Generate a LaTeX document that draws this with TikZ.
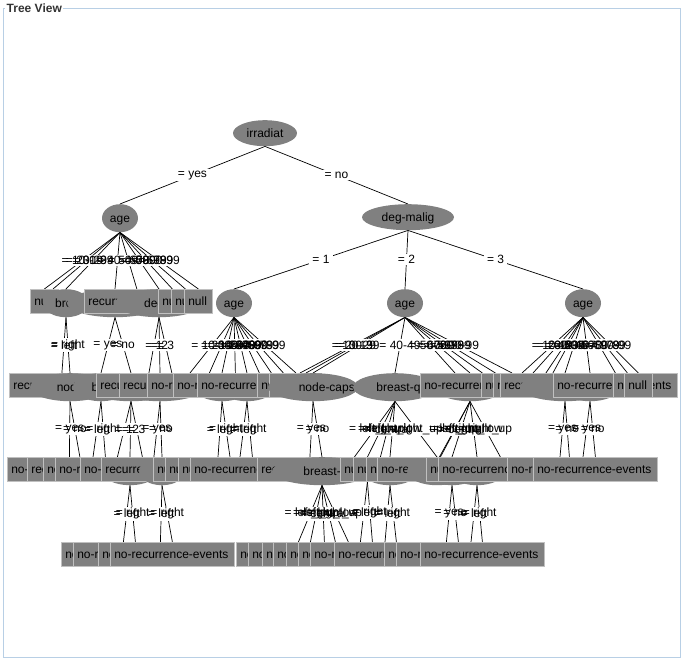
\documentclass[tikz,border=0pt]{standalone}
\usepackage{fontspec}
\setmainfont{Liberation Sans}
\usetikzlibrary{shapes.geometric}
\pgfdeclarelayer{canvas}
\pgfdeclarelayer{links}
\pgfsetlayers{canvas,links,main}
\definecolor{nodegray}{RGB}{128,128,128}
\definecolor{boxedge}{RGB}{192,192,192}
\definecolor{panelblue}{RGB}{184,207,229}
\definecolor{titlegray}{RGB}{51,51,51}
\newcommand\tvfont{\fontsize{12}{14}\selectfont}
\tikzset{
  leafbox/.style={rectangle, fill=nodegray, draw=boxedge, line width=0.8pt, inner sep=0pt, minimum height=24pt},
  splitnode/.style={ellipse, fill=nodegray, inner sep=0pt, minimum height=28pt},
  boxtext/.style={anchor=base west, inner sep=0pt, minimum width=0pt, minimum height=0pt, font=\tvfont},
  midtext/.style={anchor=base, inner sep=0pt, minimum width=0pt, minimum height=0pt, font=\tvfont},
  link/.style={draw=black, line width=0.7pt},
  linkbg/.style={fill=white, inner xsep=3pt, inner ysep=1.5pt, font=\tvfont},
  linktext/.style={inner xsep=3pt, inner ysep=1.5pt, font=\tvfont},
}
% leaf box: name, left, right, top, text
\newcommand\leaf[5]{\node[leafbox, minimum width={#3-#2}, anchor=north west,
  path picture={\node[boxtext] at ([xshift=3.5pt,yshift=-4.5pt]path picture bounding box.west) {#5};}] (#1) at (#2,#4) {};}
% split node: name, centre x, width, top, text, text left x
\newcommand\splitnd[6]{\node[splitnode, minimum width=#3pt, anchor=north,
  path picture={\node[boxtext] at ([xshift={#6-#2},yshift=-4.5pt]path picture bounding box.center) {#5};}] (#1) at (#2,#4) {};}
% split node with centred text: name, centre x, width, top, height, text
\newcommand\splitc[6]{\node[splitnode, minimum width=#3pt, minimum height=#5pt, anchor=north,
  path picture={\node[midtext] at ([yshift=-4.5pt]path picture bounding box.center) {#6};}] (#1) at (#2,#4) {};}

\begin{document}
\begin{tikzpicture}[x=1pt,y=-1pt]
\useasboundingbox (0,0) rectangle (684,661);
\begin{pgfonlayer}{canvas}
  \fill[white] (0,0) rectangle (684,661);
\end{pgfonlayer}
\draw[panelblue, line width=1pt] (3.5,8.5) rectangle (680.5,657.5);
\node[anchor=west, fill=white, inner xsep=1.5pt, inner ysep=1pt, text=titlegray,
  font=\bfseries\fontsize{12}{14}\selectfont] (title) at (5,8.5) {Tree View};

% root and first split
\splitc{irr}{265}{64}{120}{26}{irradiat}
\splitc{age1}{120}{36}{204}{28}{age}
\splitc{dm}{408}{92}{204}{26}{deg-malig}

% level 2
\leaf{A1}{30}{58}{289}{null}
\splitnd{A2}{66}{46}{289}{breast}{48}
\splitnd{A3}{115}{96}{289}{node-caps}{87}
\leaf{A4}{84}{189}{289}{recurrence-events}
\splitnd{A5}{159}{88}{289}{deg-malig}{133}
\leaf{A6}{158}{186}{289}{null}
\leaf{A7}{171}{199}{289}{null}
\leaf{A8}{184}{212}{289}{null}
\splitc{age2}{234}{36}{289}{28}{age}
\splitc{age3}{405}{36}{289}{28}{age}
\splitc{age4}{583}{36}{289}{28}{age}
\coordinate (hA20) at (53,289);

% level 3
\leaf{B1}{9}{114}{373}{recurrence-events}
\splitnd{B2}{70}{80}{373}{node-caps}{45}
\splitnd{Bdm}{131}{92}{373}{deg-malig}{105}
\splitnd{Bh1}{101}{56}{373}{breast}{84.5}
\splitnd{Bnc}{160}{90}{373}{node-caps}{132}
\leaf{B4}{96}{201}{373}{recurrence-events}
\leaf{B5}{119}{224}{373}{recurrence-events}
\splitnd{Bb222}{222}{56}{373}{breast}{205}
\leaf{B6}{147}{271}{373}{no-recurrence-events}
\splitnd{Bb247}{247}{56}{373}{breast}{230}
\leaf{B7}{173}{297}{373}{no-recurrence-events}
\leaf{B8}{197}{321}{373}{no-recurrence-events}
\leaf{B9}{257}{285}{373}{null}
\leaf{B10}{269}{297}{373}{null}
\splitnd{B11}{313}{90}{373}{node-caps}{287}
\splitnd{Bbq}{395}{84}{373}{breast-quad}{363}
\splitnd{Bh470}{470}{70}{373}{breast-quad}{438}
\leaf{B13}{420}{544}{373}{no-recurrence-events}
\leaf{B14}{481}{509}{373}{null}
\leaf{B15}{493}{598}{373}{recurrence-events}
\leaf{B16}{500}{605}{373}{recurrence-events}
\splitnd{B17}{565}{90}{373}{node-caps}{541}
\splitnd{Bh590}{590}{60}{373}{node-caps}{562}
\leaf{B18}{553}{677}{373}{no-recurrence-events}
\leaf{B19}{613}{641}{373}{null}
\leaf{B20}{624}{652}{373}{null}
\coordinate (hB190) at (190,373);
\coordinate (hB296) at (296,373);
\coordinate (hB300) at (300,373);
\coordinate (hB306) at (306,373);
\coordinate (hB455) at (455,373);
\coordinate (hB510) at (512,373);
\coordinate (hB522) at (522,373);
\coordinate (hB533) at (533,373);

% level 4
\leaf{C1}{7}{131}{457}{no-recurrence-events}
\leaf{C2}{27}{132}{457}{recurrence-events}
\leaf{C3}{43}{167}{457}{no-recurrence-events}
\leaf{C4}{55}{179}{457}{no-recurrence-events}
\splitnd{Ch130}{130}{56}{457}{breast}{113.5}
\leaf{C5}{80}{204}{457}{no-recurrence-events}
\leaf{C6}{101}{206}{457}{recurrence-events}
\splitnd{C7}{162}{46}{457}{breast}{145.5}
\leaf{C8}{153}{181}{457}{null}
\leaf{C9}{165}{193}{457}{null}
\leaf{C10}{178}{206}{457}{null}
\leaf{C11}{190}{314}{457}{no-recurrence-events}
\leaf{C12}{257}{362}{457}{recurrence-events}
\splitnd{C13}{322}{100}{457}{breast-quad}{290}
\splitnd{Ch390}{390}{56}{457}{breast}{373.5}
\leaf{C14}{340}{368}{457}{null}
\leaf{C15}{353}{381}{457}{null}
\leaf{C16}{366}{394}{457}{null}
\leaf{C17}{377}{501}{457}{no-recurrence-events}
\splitnd{Ch452}{452}{56}{457}{node-caps}{424}
\splitnd{C18}{437}{60}{457}{irradiat}{419}
\leaf{C19}{426}{454}{457}{null}
\splitnd{Ch477}{477}{56}{457}{breast}{460.5}
\leaf{C20}{438}{562}{457}{no-recurrence-events}
\leaf{C21}{507}{631}{457}{no-recurrence-events}
\leaf{C22}{533}{657}{457}{no-recurrence-events}
\coordinate (hC93) at (93,457);
\coordinate (hC218) at (218,457);
\coordinate (hC230) at (230,457);
\coordinate (hC240) at (240,457);
\coordinate (hC560) at (560,457);
\coordinate (hC583) at (583,457);

% level 5
\leaf{D1}{61}{185}{542}{no-recurrence-events}
\leaf{D2}{73}{197}{542}{no-recurrence-events}
\leaf{D3}{98}{222}{542}{no-recurrence-events}
\leaf{D4}{110}{234}{542}{no-recurrence-events}
\leaf{D5}{236}{360}{542}{no-recurrence-events}
\leaf{D6}{248}{372}{542}{no-recurrence-events}
\leaf{D7}{262}{386}{542}{no-recurrence-events}
\leaf{D8}{273}{397}{542}{no-recurrence-events}
\leaf{D9}{286}{410}{542}{no-recurrence-events}
\leaf{D10}{298}{422}{542}{no-recurrence-events}
\leaf{D11}{310}{434}{542}{no-recurrence-events}
\leaf{D12}{334}{458}{542}{no-recurrence-events}
\leaf{D13}{384}{508}{542}{no-recurrence-events}
\leaf{D14}{396}{520}{542}{no-recurrence-events}
\leaf{D15}{420}{544}{542}{no-recurrence-events}
\coordinate (hD385) at (385,542);
\coordinate (hD471) at (471,542);

\def\linklist{
irr.south/age1.north/{= yes}, irr.south/dm.north/{= no},
dm.south/age2.north/{= 1}, dm.south/age3.north/{= 2}, dm.south/age4.north/{= 3},
age1.south/A1.north/{= 10-19}, age1.south/hA20/{= 20-29}, age1.south/A2.north/{= 30-39},
age1.south/A3.north/{= 40-49}, age1.south/A4.north/{= 50-59}, age1.south/A5.north/{= 60-69},
age1.south/A6.north/{= 70-79}, age1.south/A7.north/{= 80-89}, age1.south/A8.north/{= 90-99},
A2.south/B1.north/{= left}, A2.south/B2.north/{= right},
A3.south/Bh1.north/{= yes}, A3.south/Bdm.north/{= no},
A5.south/B4.north/{= 1}, A5.south/Bnc.north/{= 2}, A5.south/B5.north/{= 3},
age2.south/hB190/{= 10-19}, age2.south/B6.north/{= 20-29}, age2.south/Bb222.north/{= 30-39},
age2.south/B7.north/{= 40-49}, age2.south/Bb247.north/{= 50-59}, age2.south/B8.north/{= 60-69},
age2.south/B9.north/{= 70-79}, age2.south/B10.north/{= 80-89}, age2.south/hB296/{= 90-99},
age3.south/hB300/{= 10-19}, age3.south/hB306/{= 20-29}, age3.south/B11.north/{= 30-39},
age3.south/Bbq.north/{= 40-49}, age3.south/hB455/{= 50-59}, age3.south/Bh470.north/{= 60-69},
age3.south/B13.north/{= 70-79}, age3.south/B14.north/{= 80-89}, age3.south/hB510/{= 90-99},
age4.south/hB522/{= 10-19}, age4.south/hB533/{= 20-29}, age4.south/B15.north/{= 30-39},
age4.south/B16.north/{= 40-49}, age4.south/B17.north/{= 50-59}, age4.south/Bh590.north/{= 60-69},
age4.south/B18.north/{= 70-79}, age4.south/B19.north/{= 80-89}, age4.south/B20.north/{= 90-99},
B2.south/C1.north/{= yes}, B2.south/C2.north/{= no},
Bh1.south/hC93/{= left}, Bh1.south/C3.north/{= right},
Bdm.south/C4.north/{= 1}, Bdm.south/Ch130.north/{= 2}, Bdm.south/C5.north/{= 3},
Bnc.south/C6.north/{= yes}, Bnc.south/C7.north/{= no},
Bb222.south/hC218/{= left}, Bb222.south/hC230/{= right},
Bb247.south/hC240/{= left}, Bb247.south/C11.north/{= right},
B11.south/C12.north/{= yes}, B11.south/C13.north/{= no},
Bbq.south/C14.north/{= left\_low}, Bbq.south/C15.north/{= left\_up}, Bbq.south/C16.north/{= central},
Bbq.south/Ch390.north/{= right\_low}, Bbq.south/C18.north/{= right\_up},
Bh470.south/C17.north/{= left\_low}, Bh470.south/C19.north/{= left\_up}, Bh470.south/Ch452.north/{= central},
Bh470.south/Ch477.north/{= right\_low}, Bh470.south/C20.north/{= right\_up},
B17.south/hC560/{= yes}, B17.south/C21.north/{= no},
Bh590.south/hC583/{= yes}, Bh590.south/C22.north/{= no},
Ch130.south/D1.north/{= left}, Ch130.south/D2.north/{= right},
C7.south/D3.north/{= left}, C7.south/D4.north/{= right},
C13.south/D5.north/{= left\_low}, C13.south/D6.north/{= left\_up}, C13.south/D7.north/{= central},
C13.south/D8.north/{= right\_low}, C13.south/D9.north/{= right\_up},
C15.south/D10.north/{= left}, C15.south/D11.north/{= right},
Ch390.south/hD385/{= left}, Ch390.south/D12.north/{= right},
Ch452.south/D13.north/{= yes}, Ch452.south/D14.north/{= no},
Ch477.south/hD471/{= left}, Ch477.south/D15.north/{= right}}

\begin{pgfonlayer}{links}
  \foreach \p/\c/\t in \linklist { \draw[link] (\p) -- (\c); }
  \foreach \p/\c/\t [count=\i] in \linklist { \path (\p) -- (\c) node[midway, linkbg] (labbg\i) {\phantom{\t}}; }
  \foreach \p/\c/\t [count=\i] in \linklist { \path (\p) -- (\c) node[midway, linktext] (lab\i) {\t}; }
\end{pgfonlayer}
\end{tikzpicture}
\end{document}
